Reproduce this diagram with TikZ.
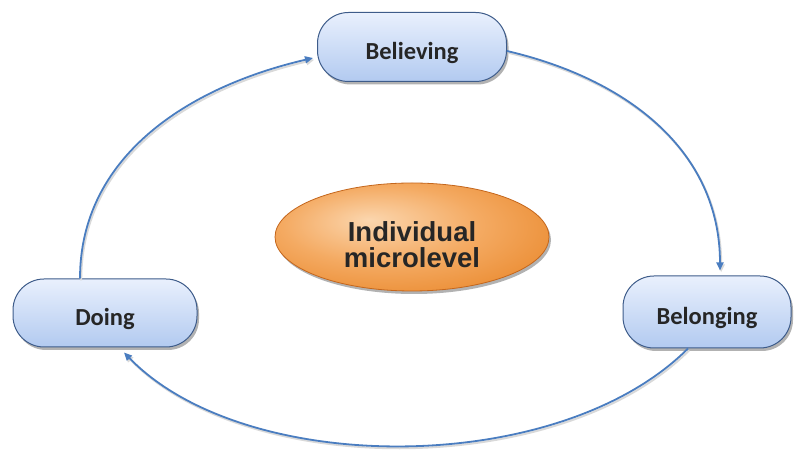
\documentclass[tikz,border=0pt]{standalone}
\usepackage{fontspec}
\newfontfamily\labelfont{Carlito}
\newfontfamily\centerfont{Liberation Sans}
\usetikzlibrary{shadows,arrows.meta,shapes.geometric}

\definecolor{pilltop}{HTML}{E9F0FD}
\definecolor{pillbottom}{HTML}{B2CAF0}
\definecolor{pillborder}{HTML}{3E5C8A}
\definecolor{arrowblue}{HTML}{4A7DC0}
\definecolor{textdark}{HTML}{262626}
\definecolor{orangelight}{HTML}{FBD6AE}
\definecolor{orangemid}{HTML}{F4AA62}
\definecolor{orangedeep}{HTML}{E7801F}
\definecolor{orangerim}{HTML}{C4661C}

% soft orange glow, brightest slightly up and to the left
\pgfdeclareradialshading{orangeglow}{\pgfpoint{-8bp}{8bp}}{%
  color(0bp)=(orangelight); color(18bp)=(orangemid);
  color(40bp)=(orangedeep); color(60bp)=(orangedeep)}

\tikzset{
  pill/.style={rectangle, rounded corners=31pt, draw=pillborder, line width=1pt,
    top color=pilltop, bottom color=pillbottom,
    drop shadow={shadow xshift=2pt, shadow yshift=-3pt, fill=black, opacity=0.3},
    font=\labelfont\bfseries\fontsize{24.5}{28}\selectfont, text=textdark,
    text height=25pt, text depth=0pt},
  hub/.style={ellipse, draw=orangerim, line width=0.8pt, shading=orangeglow,
    drop shadow={shadow xshift=2pt, shadow yshift=-3pt, fill=black, opacity=0.3}},
  hubtext/.style={align=center, text=textdark,
    font=\centerfont\bfseries\fontsize{27.5}{26}\selectfont},
  flow/.style={draw=arrowblue, line width=1.8pt,
    -{Triangle[length=8pt,width=7pt]},
    preaction={draw=black!15, line width=2pt,
      transform canvas={xshift=1.2pt,yshift=-1.8pt}}}
}

\begin{document}
\begin{tikzpicture}[x=1pt,y=1pt]
  \useasboundingbox (0,0) rectangle (795,454);

  % the three pills and the central ellipse
  \node[pill, minimum width=189pt, minimum height=69pt] (believing) at (412,407) {Believing};
  \node[pill, minimum width=184pt, minimum height=68pt] (doing) at (105,141) {Doing};
  \node[pill, minimum width=168pt, minimum height=72pt] (belonging) at (707,142) {Belonging};
  \node[hub, minimum width=274pt, minimum height=108pt] (micro) at (412,217) {};
  \node[hubtext] (microtext) at ([yshift=-8pt]micro.center) {Individual\\microlevel};

  % cycle of arrows
  \draw[flow] ([xshift=-25pt]doing.north)
      .. controls +(0,122) and +(-125,-29) .. ([xshift=-4pt,yshift=-11pt]believing.west);
  \draw[flow] ([yshift=-4pt]believing.east)
      .. controls +(120,-28) and +(0,120) .. ([xshift=13pt,yshift=5pt]belonging.north);
  \draw[flow] ([xshift=-19pt]belonging.south)
      .. controls +(-129,-129) and +(121,-125) .. ([xshift=19pt,yshift=-5pt]doing.south);
\end{tikzpicture}
\end{document}
